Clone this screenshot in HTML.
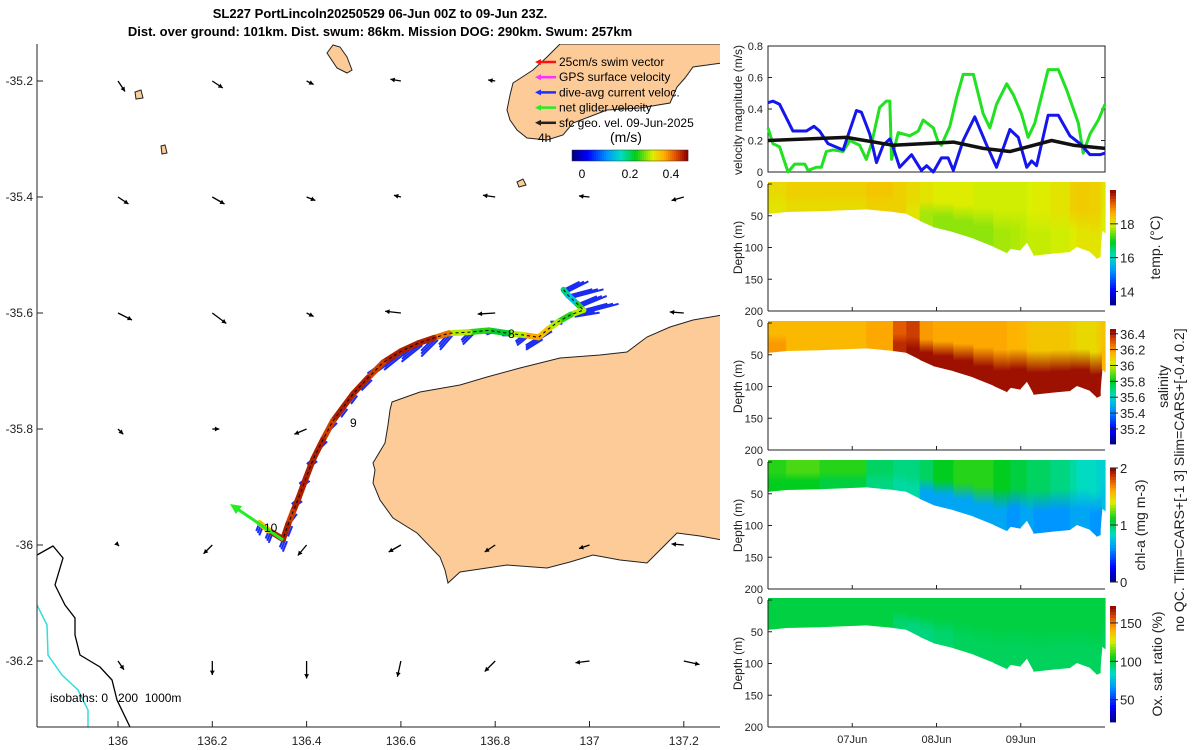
<!DOCTYPE html>
<html><head><meta charset="utf-8"><style>
body{margin:0;background:#fff}
svg{display:block;font-family:"Liberation Sans",sans-serif}
</style></head><body>
<svg id="fig" width="1200" height="750" viewBox="0 0 1200 750" xmlns="http://www.w3.org/2000/svg">
<defs id="defs"></defs>
<g font-weight="bold" font-size="13" text-anchor="middle">
<text x="380" y="18">SL227 PortLincoln20250529 06-Jun 00Z to 09-Jun 23Z.</text>
<text x="380" y="36">Dist. over ground: 101km. Dist. swum: 86km. Mission DOG: 290km. Swum: 257km</text>
</g>
<g id="map"></g>
<g id="vel"></g>
<g id="sections"></g>
</svg>
<script>
// ---------- data ----------
const blueT=[0,1.4,3.3,7.1,10.9,13.1,14.7,17.1,21.4,25.2,26.6,29,30.9,32.8,34.7,35.6,37.5,40.9,43.7,45.2,47.1,49.4,51.3,52.8,55.6,58.9,62.3,65.1,68.9,71.3,73.7,75.1,76.5,79.8,82.7,86,88.9,91.7,94.6,96];
const blueV=[0.44,0.45,0.43,0.26,0.26,0.29,0.26,0.18,0.14,0.39,0.38,0.24,0.06,0.17,0.21,0.16,0.03,0.11,0.01,0.04,0.0,0.09,0.09,0.01,0.20,0.35,0.17,0.03,0.27,0.22,0.03,0.07,0.04,0.36,0.36,0.23,0.18,0.11,0.11,0.12];
const greenT=[0,1.4,3.3,5.7,7.6,10.5,11.4,13.8,15.2,16.6,18.5,21.4,23.3,26.1,28,29.5,31.8,33.7,34.7,35.2,37.1,40.4,42.8,44.2,47.1,48.5,49.4,51.8,53.7,55.6,58.5,61.3,63.2,65.1,68,69.9,72.2,74.1,76,77.9,79.8,82.7,85.1,88.4,89.8,91.7,94.1,96];
const greenV=[0.28,0.18,0.16,0.0,0.05,0.05,0.01,0.03,0.03,0.13,0.14,0.13,0.2,0.17,0.08,0.18,0.41,0.45,0.45,0.08,0.25,0.23,0.26,0.33,0.28,0.19,0.17,0.29,0.47,0.62,0.62,0.37,0.28,0.43,0.56,0.49,0.37,0.22,0.31,0.48,0.65,0.65,0.52,0.31,0.12,0.24,0.33,0.43];
const geoT=[0,22.3,35.6,52.8,61.3,68.9,80.8,87,96];
const geoV=[0.2,0.22,0.17,0.19,0.15,0.13,0.20,0.17,0.15];
const velTicks=[0,0.2,0.4,0.6,0.8];
const secT=[0,5.2,14.7,28,35.6,39.4,43.2,47,52.8,58.5,64.2,68,69,71.8,73.7,75.6,80.4,86,87.9,91.7,93.6,94.6,95.1,96];
const secDepth=[47,44,43,40,44,47,58,68,76,86,99,109,102,105,92,113,110,107,99,107,118,115,73,78];
const tempSurf=[18.2,18.3,18.3,18.4,18.3,18.2,18.1,18.0,18.0,17.9,17.9,17.9,17.9,17.9,17.95,18.0,18.1,18.3,18.35,18.3,18.3,18.2,18.1,18.1];
const tempDeep=[18.1,18.2,18.2,18.3,18.3,18.1,17.7,17.6,17.6,17.6,17.7,17.7,17.75,17.8,17.85,17.85,17.9,18.0,18.1,18.1,18.1,18.0,18.0,18.0];
const salSurf=[36.15,36.15,36.15,36.18,36.3,36.35,36.2,36.18,36.18,36.18,36.18,36.16,36.16,36.15,36.13,36.12,36.12,36.1,36.08,36.08,36.1,36.12,36.12,36.12];
const salDeep=[36.2,36.15,36.15,36.18,36.38,36.43,36.43,36.43,36.43,36.43,36.43,36.43,36.43,36.43,36.43,36.43,36.43,36.43,36.43,36.43,36.43,36.43,36.15,36.15];
const chlSurf=[1.15,1.2,1.15,1.0,0.95,0.95,1.0,1.1,1.15,1.15,1.1,1.1,1.05,1.05,1.0,1.0,0.95,0.9,0.85,0.85,0.8,0.8,0.8,0.8];
const chlDeep=[1.1,1.1,1.05,0.95,0.9,0.9,0.65,0.65,0.65,0.65,0.65,0.6,0.6,0.65,0.65,0.6,0.6,0.65,0.65,0.6,0.6,0.6,0.75,0.75];
const oxSurf=[100,100,100,100,100,100,100,100,100,100,100,100,100,100,100,100,100,100,100,100,100,100,100,100];
const oxDeep=[100,100,100,100,95,93,93,95,97,97,97,97,97,97,97,97,97,97,97,97,97,97,97,97];
const dateTicks=[24,48,72];
const dateLabels=["07Jun","08Jun","09Jun"];
const depthTicks=[0,50,100,150,200];
const lonTicks=[136,136.2,136.4,136.6,136.8,137,137.2];
const latTicks=[-35.2,-35.4,-35.6,-35.8,-36,-36.2];
const geoLon=[136,136.2,136.4,136.6,136.8,137,137.2];
const geoLat=[-35.2,-35.4,-35.6,-35.8,-36,-36.2];
const sfcU=[[0.02,0.03,0.02,-0.03,-0.02,null,null],[0.03,0.035,0.025,-0.02,-0.035,-0.03,-0.035],[0.04,0.04,0.02,-0.045,-0.05,-0.045,-0.04],[0.015,0.02,-0.035,null,null,null,null],[0.003,-0.025,-0.025,-0.035,-0.03,-0.03,-0.035],[0.017,0.0,0.0,-0.01,-0.03,-0.04,0.045]];
const sfcV=[[-0.03,-0.02,-0.01,0.005,0.003,null,null],[-0.02,-0.02,-0.01,0.005,0.005,0.003,-0.01],[-0.02,-0.03,-0.01,0.005,-0.003,0.002,0.003],[-0.015,0,-0.015,null,null,null,null],[-0.003,-0.025,-0.03,-0.02,-0.02,-0.01,0.003],[-0.025,-0.04,-0.05,-0.045,-0.03,-0.005,-0.01]];
const trLon=[136.945,136.955,136.975,136.987,136.96,136.934,136.912,136.892,136.86,136.828,136.786,136.745,136.701,136.67,136.637,136.6,136.563,136.53,136.499,136.478,136.456,136.435,136.414,136.398,136.382,136.371,136.361,136.35,136.32,136.3];
const trLat=[-35.560,-35.57,-35.585,-35.595,-35.603,-35.615,-35.628,-35.642,-35.638,-35.635,-35.630,-35.633,-35.635,-35.643,-35.652,-35.666,-35.685,-35.712,-35.739,-35.762,-35.786,-35.818,-35.852,-35.886,-35.921,-35.943,-35.964,-35.99,-35.975,-35.962];
const trSpd=[0.25,0.2,0.3,0.35,0.3,0.35,0.4,0.42,0.35,0.28,0.3,0.35,0.45,0.5,0.5,0.5,0.48,0.5,0.5,0.5,0.48,0.5,0.5,0.5,0.5,0.48,0.5,0.5,0.4,0.3];
const curU=[0.1,0.15,0.12,0.15,0.12,-0.05,-0.08,-0.08,-0.05,-0.05,-0.03,-0.05,-0.06,-0.08,-0.1,-0.1,-0.1,-0.05,-0.03,-0.03,-0.03,-0.03,-0.04,-0.04,-0.04,-0.03,-0.02,-0.02,-0.02,-0.02];
const curV=[0.05,0.04,0.05,0.04,0.02,0.0,-0.05,-0.05,-0.04,0.0,-0.01,-0.05,-0.07,-0.08,-0.08,-0.08,-0.07,-0.05,-0.04,-0.04,-0.03,-0.03,-0.03,-0.03,-0.03,-0.04,-0.05,-0.05,-0.05,-0.05];

// ---------- helpers ----------
const NS="http://www.w3.org/2000/svg";
function mk(parent,tag,attrs,txt){const e=document.createElementNS(NS,tag);for(const k in attrs)e.setAttribute(k,attrs[k]);if(txt!==undefined)e.textContent=txt;parent.appendChild(e);return e;}
const cStops=[[0,[0,0,128]],[0.13,[0,0,255]],[0.3,[0,150,255]],[0.42,[0,220,200]],[0.55,[0,205,30]],[0.7,[220,240,0]],[0.8,[255,175,0]],[0.9,[225,80,0]],[1,[140,0,0]]];
function cmap(t){t=Math.max(0,Math.min(1,t));for(let i=1;i<cStops.length;i++){if(t<=cStops[i][0]){const a=cStops[i-1],b=cStops[i];const f=(t-a[0])/(b[0]-a[0]);const c=a[1].map((v,j)=>Math.round(v+(b[1][j]-v)*f));return `rgb(${c[0]},${c[1]},${c[2]})`;}}return "rgb(140,0,0)";}
const defs=document.getElementById('defs');

// ---------- map ----------
const map=document.getElementById('map');
const mx=lon=>118+(lon-136)/0.2*94.3;
const my=lat=>545-(lat+36)/0.2*116;
const cp=mk(defs,'clipPath',{id:'mapclip'});
mk(cp,'rect',{x:37,y:44,width:683,height:683});
const mg=mk(map,'g',{'clip-path':'url(#mapclip)'});
const landStyle={fill:'#fccb98',stroke:'#222','stroke-width':1};
let p=mk(mg,'polygon',Object.assign({points:'392,402 420,392 460,385 487,377 520,368 560,358 600,355 627,352 647,337 670,327 693,320 722,315 722,540 700,536 677,533 667,543 647,563 620,560 593,555 570,562 547,568 507,565 460,572 448,583 445,570 440,557 417,533 393,518 380,500 373,483 375,470 373,463 385,443 388,425 390,410'},landStyle));

p=mk(mg,'polygon',Object.assign({points:'560,44 722,44 722,63 693,67 685,78 677,87 670,103 640,108 607,110 573,123 563,135 547,140 527,138 517,130 510,120 507,110 510,95 513,83 533,70 547,57'},landStyle));

p=mk(mg,'polygon',Object.assign({points:'327,53 333,45 340,47 347,57 352,70 347,73 337,68'},landStyle));

mk(mg,'polygon',Object.assign({points:'135,92 141,90 143,98 136,99'},landStyle));
mk(mg,'polygon',Object.assign({points:'517,182 523,179 526,185 519,187'},landStyle));
mk(mg,'polygon',Object.assign({points:'161,146 165,145 167,153 162,154'},landStyle));
p=mk(mg,'polyline',{points:'37,555 53,546 63,558 55,585 65,605 75,618 75,635 80,655 100,667 112,680 117,700 130,727',fill:'none',stroke:'#000','stroke-width':1.3});

p=mk(mg,'polyline',{points:'37,605 47,625 48,655 62,675 78,690 88,710 88,727',fill:'none',stroke:'#33dddd','stroke-width':1.5});

for(let r=0;r<geoLat.length;r++)for(let c=0;c<geoLon.length;c++){
  if(sfcU[r][c]===null)continue;
  const x0=mx(geoLon[c]),y0=my(geoLat[r]);const s=350;
  const x1=x0+sfcU[r][c]*s,y1=y0-sfcV[r][c]*s;
  const a=Math.atan2(y1-y0,x1-x0);
  const g=mk(mg,'g',{});
  
  
  mk(g,'line',{x1:x0,y1:y0,x2:x1,y2:y1,stroke:'#000','stroke-width':1.3});
  mk(g,'polygon',{points:`${x1},${y1} ${x1-5*Math.cos(a-0.5)},${y1-5*Math.sin(a-0.5)} ${x1-5*Math.cos(a+0.5)},${y1-5*Math.sin(a+0.5)}`,fill:'#000'});
}
const tg=mk(mg,'g',{});


for(let i=0;i<trLon.length;i++){
  const x0=mx(trLon[i]),y0=my(trLat[i]);
  for(let k=0;k<3;k++){const f=1+k*0.15;mk(tg,'line',{x1:x0+k*2,y1:y0+k,x2:x0+k*2+curU[i]*160*f,y2:y0+k-curV[i]*160*f,stroke:'#1a2cf0','stroke-width':2});}
}
for(let i=0;i<trLon.length-1;i++){
  mk(tg,'line',{x1:mx(trLon[i]),y1:my(trLat[i]),x2:mx(trLon[i+1]),y2:my(trLat[i+1]),stroke:cmap(trSpd[i]/0.52),'stroke-width':6,'stroke-linecap':'round'});
}
mk(tg,'polyline',{points:trLon.map((l,i)=>mx(l)+','+my(trLat[i])).join(' '),fill:'none',stroke:'#000','stroke-width':1,'stroke-dasharray':'3,3'});
p=mk(mg,'line',{x1:283,y1:540,x2:236,y2:508,stroke:'#22ee22','stroke-width':3});

mk(mg,'polygon',{points:'230,504 242,506 236,514',fill:'#22ee22'});
mk(mg,'text',{x:508,y:338,'font-size':12},'8');
mk(mg,'text',{x:350,y:427,'font-size':12},'9');
mk(mg,'text',{x:264,y:532,'font-size':12},'10');
mk(mg,'text',{x:538,y:142,'font-size':12},'4h');
p=mk(mg,'text',{x:50,y:702,'font-size':12,style:'white-space:pre'},'isobaths: 0   200  1000m');

const lg=mk(mg,'g',{'font-size':12});


const legItems=[['25cm/s swim vector','#ff1010'],['GPS surface velocity','#ff30ff'],['dive-avg current veloc.','#2030ff'],['net glider velocity','#22ee22'],['sfc geo. vel. 09-Jun-2025','#222']];
legItems.forEach((it,i)=>{const y=62+i*15.2;mk(lg,'line',{x1:540,y1:y,x2:556,y2:y,stroke:it[1],'stroke-width':2.5});mk(lg,'polygon',{points:`535,${y} 541,${y-3} 541,${y+3}`,fill:it[1]});mk(lg,'text',{x:559,y:y+4},it[0]);});
mk(lg,'text',{x:610,y:142,'font-size':14},'(m/s)');
for(let i=0;i<58;i++){mk(lg,'rect',{x:572+i*2,y:150,width:2.2,height:11,fill:cmap(i/57)});}
mk(lg,'rect',{x:572,y:150,width:116,height:11,fill:'none',stroke:'#333','stroke-width':0.5});
[[0,582],[0.2,630],[0.4,671]].forEach(t=>mk(lg,'text',{x:t[1],y:178,'text-anchor':'middle'},String(t[0])));
const ax=mk(map,'g',{'font-size':12,fill:'#222'});


mk(ax,'line',{x1:37,y1:727,x2:720,y2:727,stroke:'#222'});
mk(ax,'line',{x1:37,y1:44,x2:37,y2:727,stroke:'#222'});
lonTicks.forEach(l=>{const x=mx(l);mk(ax,'line',{x1:x,y1:727,x2:x,y2:721,stroke:'#222'});mk(ax,'text',{x:x,y:745,'text-anchor':'middle'},String(l));});
latTicks.forEach(l=>{const y=my(l);mk(ax,'line',{x1:37,y1:y,x2:43,y2:y,stroke:'#222'});mk(ax,'text',{x:33,y:y+4,'text-anchor':'end'},String(l));});

// ---------- velocity panel ----------
const vel=document.getElementById('vel');
const X0=768,X1=1105;
const tx=h=>X0+h*(X1-X0)/96;
const vy=v=>172-v/0.8*126;
mk(vel,'rect',{x:X0,y:46,width:X1-X0,height:126,fill:'none',stroke:'#222'});
velTicks.forEach(v=>{const y=vy(v);mk(vel,'line',{x1:X0,y1:y,x2:X0+4,y2:y,stroke:'#222'});mk(vel,'line',{x1:X1,y1:y,x2:X1-4,y2:y,stroke:'#222'});mk(vel,'text',{x:763,y:y+4,'text-anchor':'end','font-size':11,fill:'#222'},String(v));});
mk(vel,'text',{transform:'translate(742,110) rotate(-90)','text-anchor':'middle','font-size':12,fill:'#222'},'velocity magnitude (m/s)');
function series(T,V,col,w,name){const e=mk(vel,'polyline',{points:T.map((t,i)=>tx(t)+','+vy(V[i])).join(' '),fill:'none',stroke:col,'stroke-width':w,'stroke-linejoin':'round'});}
series(greenT,greenV,'#22e022',3,'net-glider-speed-line');
series(blueT,blueV,'#1515ee',3,'dive-avg-current-line');
series(geoT,geoV,'#111',3.5,'geostrophic-speed-line');

// ---------- sections ----------
const sec=document.getElementById('sections');
const panels=[
 {name:'temperature-section',top:184,surf:tempSurf,deep:tempDeep,lo:13.2,hi:20,cb:[190,305],ticks:[14,16,18],label:'temp. (°C)',lx:1160,fs:14},
 {name:'salinity-section',top:323,surf:salSurf,deep:salDeep,lo:35.01,hi:36.46,cb:[329,444],ticks:[35.2,35.4,35.6,35.8,36,36.2,36.4],label:'salinity',lx:1168,fs:14},
 {name:'chlorophyll-section',top:462,surf:chlSurf,deep:chlDeep,lo:0,hi:2,cb:[468,582],ticks:[0,1,2],label:'chl-a (mg m-3)',lx:1145,fs:14},
 {name:'oxygen-section',top:600,surf:oxSurf,deep:oxDeep,lo:21,hi:172,cb:[606,722],ticks:[50,100,150],label:'Ox. sat. ratio (%)',lx:1162,fs:14}
];
panels.forEach((P,pi)=>{
  const g=mk(sec,'g',{});
  
  
  const dy=d=>P.top+d/200*127;
  for(let i=0;i<secT.length-1;i++){
    const id='g'+pi+'_'+i;
    const lgd=mk(defs,'linearGradient',{id:id,x1:0,y1:0,x2:0,y2:1});
    const cs=cmap((P.surf[i]-P.lo)/(P.hi-P.lo)),cd=cmap((P.deep[i]-P.lo)/(P.hi-P.lo));
    mk(lgd,'stop',{offset:0,'stop-color':cs});mk(lgd,'stop',{offset:0.4,'stop-color':cs});mk(lgd,'stop',{offset:0.7,'stop-color':cd});mk(lgd,'stop',{offset:1,'stop-color':cd});
    const xa=tx(secT[i]),xb=tx(secT[i+1])+0.6;
    mk(g,'polygon',{points:`${xa},${dy(0)-2} ${xb},${dy(0)-2} ${xb},${dy(secDepth[i+1])} ${xa},${dy(secDepth[i])}`,fill:`url(#${id})`});
  }
  mk(g,'line',{x1:X0,y1:dy(200),x2:X1,y2:dy(200),stroke:'#222'});
  mk(g,'line',{x1:X0,y1:dy(0),x2:X0,y2:dy(200),stroke:'#222'});
  depthTicks.forEach(d=>{mk(g,'line',{x1:X0,y1:dy(d),x2:X0+4,y2:dy(d),stroke:'#222'});mk(g,'text',{x:763,y:dy(d)+4,'text-anchor':'end','font-size':11,fill:'#222'},String(d));});
  dateTicks.forEach(h=>mk(g,'line',{x1:tx(h),y1:dy(200),x2:tx(h),y2:dy(200)-4,stroke:'#222'}));
  mk(g,'text',{transform:`translate(742,${dy(100)}) rotate(-90)`,'text-anchor':'middle','font-size':12,fill:'#222'},'Depth (m)');
  const n=40,h=(P.cb[1]-P.cb[0])/n;
  for(let k=0;k<n;k++)mk(g,'rect',{x:1110,y:P.cb[1]-(k+1)*h,width:6,height:h+0.4,fill:cmap((k+0.5)/n)});
  P.ticks.forEach(t=>{const y=P.cb[1]-(t-P.lo)/(P.hi-P.lo)*(P.cb[1]-P.cb[0]);mk(g,'line',{x1:1110,y1:y,x2:1118,y2:y,stroke:'#222'});mk(g,'text',{x:1120,y:y+5,'font-size':13,fill:'#222'},String(t));});
  mk(g,'text',{transform:`translate(${P.lx},${(P.cb[0]+P.cb[1])/2}) rotate(-90)`,'text-anchor':'middle','font-size':P.fs,fill:'#222'},P.label);
});
dateTicks.forEach((h,i)=>mk(sec,'text',{x:tx(h),y:743,'text-anchor':'middle','font-size':11,fill:'#222'},dateLabels[i]));
p=mk(sec,'text',{transform:'translate(1184,480) rotate(-90)','text-anchor':'middle','font-size':14,fill:'#222'},'no QC. Tlim=CARS+[-1 3] Slim=CARS+[-0.4 0.2]');

</script>
</body></html>
